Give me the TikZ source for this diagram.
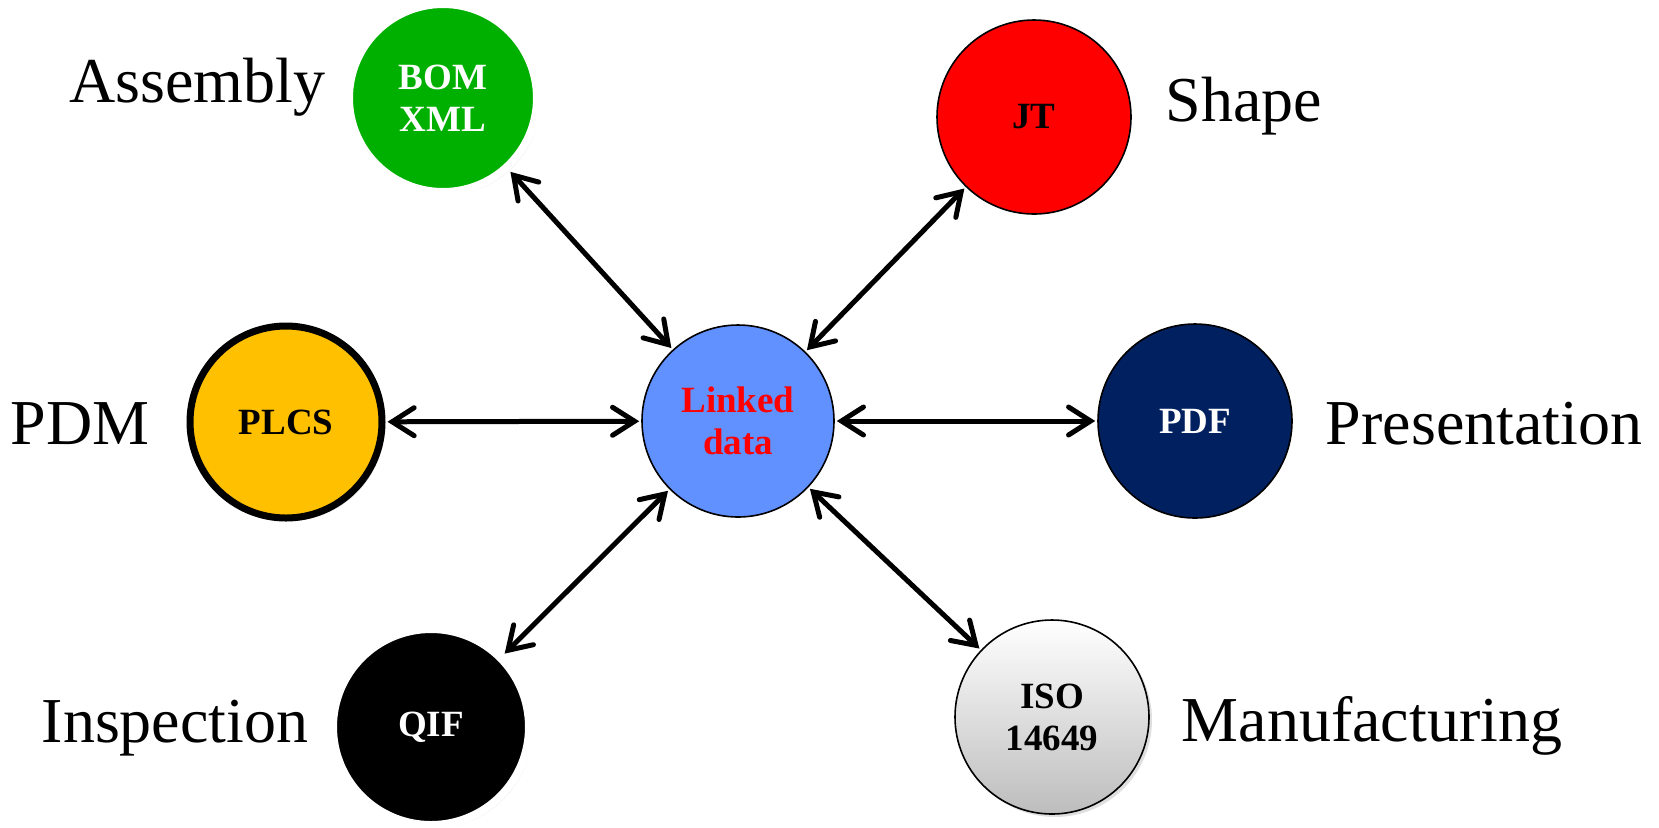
\documentclass[tikz,border=0pt]{standalone}
\usepackage{fontspec}
\setmainfont{Liberation Serif}
\usetikzlibrary{arrows.meta,shadows}
\definecolor{bomgreen}{HTML}{00B000}
\definecolor{jtred}{HTML}{FF0000}
\definecolor{plcsyellow}{HTML}{FFC000}
\definecolor{linkblue}{HTML}{6190FF}
\definecolor{pdfnavy}{HTML}{002060}
\definecolor{isogray}{HTML}{BDBDBD}
\tikzset{
  ball/.style={circle, inner sep=0pt, align=center, font=\fontsize{18.5}{21}\selectfont\bfseries},
  softshadow/.style={drop shadow={opacity=0.25, shadow xshift=1.5pt, shadow yshift=-1.5pt}},
  lbl/.style={font=\fontsize{32}{36}\selectfont},
  link/.style={{Straight Barb[length=11pt,width=14pt,line cap=round]}-{Straight Barb[length=11pt,width=14pt,line cap=round]}, line width=2.5pt, line cap=round, shorten <=1pt, shorten >=1pt}
}
\begin{document}
\begin{tikzpicture}[x=0.5pt,y=-0.5pt]
\useasboundingbox (0,0) rectangle (1659,827);
% circles
\node[ball, softshadow, fill=bomgreen, draw=white, line width=4pt, minimum size=94pt, text=white] (bom) at (443,98) {BOM\\XML};
\node[ball, fill=jtred, draw=black, line width=0.8pt, minimum size=97pt, text=black] (jt) at (1034,117) {JT};
\node[ball, fill=linkblue, draw=black, line width=0.8pt, minimum size=96pt, text=jtred] (linked) at (738,421) {Linked\\data};
\node[ball, softshadow, fill=plcsyellow, draw=black, line width=3.5pt, minimum size=96pt, text=black] (plcs) at (286,422) {PLCS};
\node[ball, fill=pdfnavy, draw=black, line width=0.8pt, minimum size=97pt, text=white] (pdf) at (1195,421) {PDF};
\node[ball, softshadow, fill=black, draw=white, line width=4pt, minimum size=98pt, text=white] (qif) at (431,727) {QIF};
\node[ball, softshadow, top color=white, bottom color=isogray, draw=black, line width=0.8pt, minimum size=97pt, text=black] (iso) at (1052,717) {ISO\\14649};
% labels
\node[lbl] (lassembly) at (197,87) {Assembly};
\node[lbl] (lshape) at (1244,106) {Shape};
\node[lbl] (lpdm) at (80,424) {PDM};
\node[lbl] (lpres) at (1484,424) {Presentation};
\node[lbl] (linsp) at (175,728) {Inspection};
\node[lbl] (lmanu) at (1372,726) {Manufacturing};
% connectors
\draw[link] (bom) -- (linked);
\draw[link] (jt) -- (linked);
\draw[link] (plcs) -- (linked);
\draw[link] (linked) -- (pdf);
\draw[link] (qif) -- (linked);
\draw[link] (linked) -- (iso);
\end{tikzpicture}
\end{document}
